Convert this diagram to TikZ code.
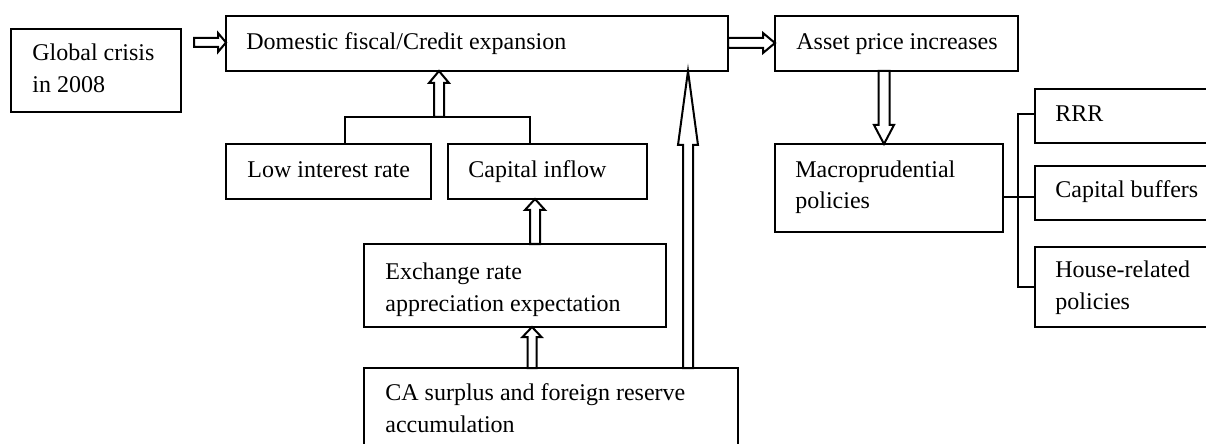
\documentclass[tikz,border=0pt]{standalone}
\usepackage{fontspec}
\setmainfont{Liberation Serif}
\usetikzlibrary{calc}
\tikzset{
  box/.style={draw, line width=1pt, inner sep=0pt, outer sep=0pt, anchor=north west},
  txt/.style={anchor=base west, align=left, inner sep=0pt, font=\fontsize{12pt}{16pt}\selectfont},
  conn/.style={line width=1pt},
  barr/.style={draw, fill=white, line width=1pt, line join=miter},
}
\newcommand{\mybox}[5]{%
  \pgfmathsetmacro\bxw{(#4-#2)*0.5}%
  \pgfmathsetmacro\bxh{(#5-#3)*0.5}%
  \node[box, minimum width=\bxw pt, minimum height=\bxh pt] (#1) at (#2,#3) {};}
% block arrow: start, tip, shaft half width, head half width, head length
\newcommand{\barrow}[5]{%
  \coordinate (bah) at ($(#2)!#5!(#1)$);
  \draw[barr] ($(#1)!#3!90:(#2)$) -- ($(bah)!#3!90:(#2)$) -- ($(bah)!#4!90:(#2)$)
    -- (#2) -- ($(bah)!#4!-90:(#2)$) -- ($(bah)!#3!-90:(#2)$) -- ($(#1)!#3!-90:(#2)$) -- cycle;}
\begin{document}
\begin{tikzpicture}[x=0.5pt, y=-0.5pt]
\path[use as bounding box, clip] (0,0) rectangle (1206,444);

% boxes
\mybox{glob}{11}{29}{181}{112}
\mybox{dom}{226}{16}{728}{71}
\mybox{asset}{775}{16}{1018}{71}
\mybox{low}{226}{144}{431}{199}
\mybox{capin}{448}{144}{647}{199}
\mybox{exch}{364}{244}{666}{327}
\mybox{ca}{364}{368}{738}{470}
\mybox{macro}{775}{144}{1003}{232}
\mybox{rrr}{1035}{89}{1230}{143}
\mybox{capbuf}{1035}{166}{1230}{220}
\mybox{house}{1035}{247}{1230}{327}

% texts (multi-line nodes are placed at the baseline of their last line)
\node[txt] (tglob) at (32,93) {Global crisis\\in 2008};
\node[txt] (tdom) at (246,50) {Domestic fiscal/Credit expansion};
\node[txt] (tasset) at (796,50) {Asset price increases};
\node[txt] (tlow) at (247,177) {Low interest rate};
\node[txt] (tcapin) at (468,177) {Capital inflow};
\node[txt] (texch) at (385,311) {Exchange rate\\appreciation expectation};
\node[txt] (tca) at (385,432) {CA surplus and foreign reserve\\accumulation};
\node[txt] (tmacro) at (795,209) {Macroprudential\\policies};
\node[txt] (trrr) at (1055,122) {RRR};
\node[txt] (tcapbuf) at (1055,198) {Capital buffers};
\node[txt] (thouse) at (1055,309) {House-related\\policies};

% bracket joining low interest rate and capital inflow
\coordinate (bl) at (345,117);
\coordinate (br) at (530,117);
\coordinate (bm) at (439,117);
\draw[conn] (bl |- low.north) -- (bl) -- (br) -- (br |- capin.north);

% bracket from macroprudential policies to instruments
\coordinate (rv) at (1018,197);
\coordinate (rtop) at (1018,114);
\coordinate (rbot) at (1018,287);
\draw[conn] (macro.east |- rv) -- (capbuf.west |- rv);
\draw[conn] (rrr.west |- rtop) -- (rtop) -- (rbot) -- (house.west |- rbot);

% block arrows
\coordinate (a1s) at (194,42.5);
\coordinate (a1t) at (dom.west |- a1s);
\barrow{a1s}{a1t}{2.25pt}{4.75pt}{4pt}

\coordinate (a2s) at (dom.east |- 0,43);
\coordinate (a2t) at (asset.west |- 0,43);
\barrow{a2s}{a2t}{2.5pt}{5pt}{6pt}

\coordinate (a3s) at (asset.south -| 884,0);
\coordinate (a3t) at (macro.north -| 884,0);
\barrow{a3s}{a3t}{2.75pt}{5pt}{9.5pt}

\coordinate (a4t) at (dom.south -| bm);
\barrow{bm}{a4t}{2.5pt}{5pt}{6pt}

\coordinate (a5s) at (exch.north -| 535,0);
\coordinate (a5t) at (capin.south -| 535,0);
\barrow{a5s}{a5t}{2.5pt}{5pt}{5.5pt}

\coordinate (a6s) at (ca.north -| 532,0);
\coordinate (a6t) at (exch.south -| 532,0);
\barrow{a6s}{a6t}{2.25pt}{4.75pt}{5pt}

\coordinate (a7s) at (ca.north -| 688,0);
\coordinate (a7t) at (dom.south -| 688,0);
\barrow{a7s}{a7t}{2.5pt}{5pt}{37pt}
\end{tikzpicture}
\end{document}
